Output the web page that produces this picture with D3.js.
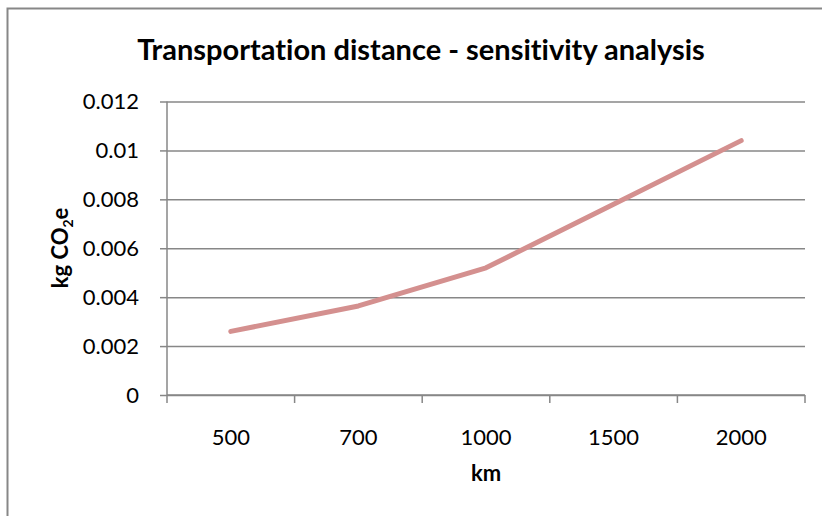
<!DOCTYPE html>
<html>
<head>
<meta charset="utf-8">
<script src="https://cdn.jsdelivr.net/npm/d3@7"></script>
<style>
  body { margin: 0; background: #fff; }
  svg { display: block; font-family: Lato, "Open Sans", sans-serif; font-variant-ligatures: none; }
</style>
</head>
<body>
<svg id="chart"></svg>
<script>
// data
const categories = ['500', '700', '1000', '1500', '2000'];
const values = [0.0026, 0.00364, 0.0052, 0.0078, 0.0104];
const yTicks = [0, 0.002, 0.004, 0.006, 0.008, 0.01, 0.012];

const w = 822;
const h = 516;

// plot area
let plotLeft = 167, plotRight = 805, plotTop = 101.5, plotBottom = 395;

let svg = d3.select('#chart')
  .attr('width', w)
  .attr('height', h);

// chart frame (runs off the right and bottom edge)
svg.append('rect')
  .attr('x', 7.5)
  .attr('y', 8.5)
  .attr('width', 900)
  .attr('height', 600)
  .attr('fill', 'none')
  .attr('stroke', '#878787')
  .attr('stroke-width', 2);

let xScale = d3.scaleBand()
  .domain(categories)
  .range([plotLeft, plotRight])
  .padding(0);

let yScale = d3.scaleLinear()
  .domain([0, 0.012])
  .range([plotBottom, plotTop]);

// gridlines
let grid = svg.append('g')
  .attr('transform', `translate(${plotLeft},0)`)
  .call(d3.axisLeft(yScale).tickValues(yTicks).tickSize(-(plotRight - plotLeft)).tickFormat(''));
grid.select('.domain').remove();
grid.selectAll('line')
  .attr('stroke', '#878787')
  .attr('stroke-width', 1.5);

// y axis
let yAxis = svg.append('g')
  .attr('transform', `translate(${plotLeft},0)`)
  .call(d3.axisLeft(yScale)
    .tickValues(yTicks)
    .tickSize(7)
    .tickPadding(21)
    .tickFormat((d) => String(d)));
yAxis.select('.domain')
  .attr('stroke', '#878787')
  .attr('stroke-width', 1.5)
  .attr('d', `M0,${plotBottom}V${plotTop}`);
yAxis.selectAll('line').attr('stroke', '#878787').attr('stroke-width', 1.5);
yAxis.selectAll('text')
  .attr('font-size', 22)
  .attr('font-family', 'Lato, sans-serif')
  .attr('fill', '#000');

// x axis: labels at band centres, tick marks at band edges
let xAxis = svg.append('g')
  .attr('transform', `translate(0,${plotBottom})`)
  .call(d3.axisBottom(xScale).tickSize(0).tickPadding(0));
xAxis.select('.domain').remove();
xAxis.selectAll('text')
  .attr('y', 50)
  .attr('dy', 0)
  .attr('font-size', 22)
  .attr('font-family', 'Lato, sans-serif')
  .attr('fill', '#000');

let edges = categories.map((c) => xScale(c)).concat([xScale(categories[categories.length - 1]) + xScale.bandwidth()]);
svg.append('g')
  .selectAll('line')
  .data(edges)
  .enter()
  .append('line')
  .attr('x1', (d) => d)
  .attr('x2', (d) => d)
  .attr('y1', plotBottom)
  .attr('y2', plotBottom + 8)
  .attr('stroke', '#878787')
  .attr('stroke-width', 1.5);

svg.append('line')
  .attr('x1', plotLeft)
  .attr('x2', plotRight)
  .attr('y1', plotBottom)
  .attr('y2', plotBottom)
  .attr('stroke', '#878787')
  .attr('stroke-width', 1.5);

// the series line
let line = d3.line()
  .x((d, i) => xScale(categories[i]) + xScale.bandwidth() / 2)
  .y((d) => yScale(d));

svg.append('path')
  .datum(values)
  .attr('d', line)
  .attr('fill', 'none')
  .attr('stroke', '#d4908f')
  .attr('stroke-width', 5)
  .attr('stroke-linecap', 'round')
  .attr('stroke-linejoin', 'round');

// title and axis titles
svg.append('text')
  .attr('x', 421)
  .attr('y', 60)
  .attr('text-anchor', 'middle')
  .attr('font-size', 29)
  .attr('font-weight', 'bold')
  .text('Transportation distance - sensitivity analysis');

svg.append('text')
  .attr('x', (plotLeft + plotRight) / 2)
  .attr('y', 481)
  .attr('text-anchor', 'middle')
  .attr('font-size', 22)
  .attr('font-weight', 'bold')
  .text('km');

let yTitle = svg.append('text')
  .attr('transform', 'translate(68,248) rotate(-90)')
  .attr('text-anchor', 'middle')
  .attr('font-size', 22)
  .attr('font-weight', 'bold');
yTitle.append('tspan').text('kg CO');
yTitle.append('tspan').attr('font-size', 14).attr('dy', 5).text('2');
yTitle.append('tspan').attr('dy', -5).text('e');
</script>
</body>
</html>
